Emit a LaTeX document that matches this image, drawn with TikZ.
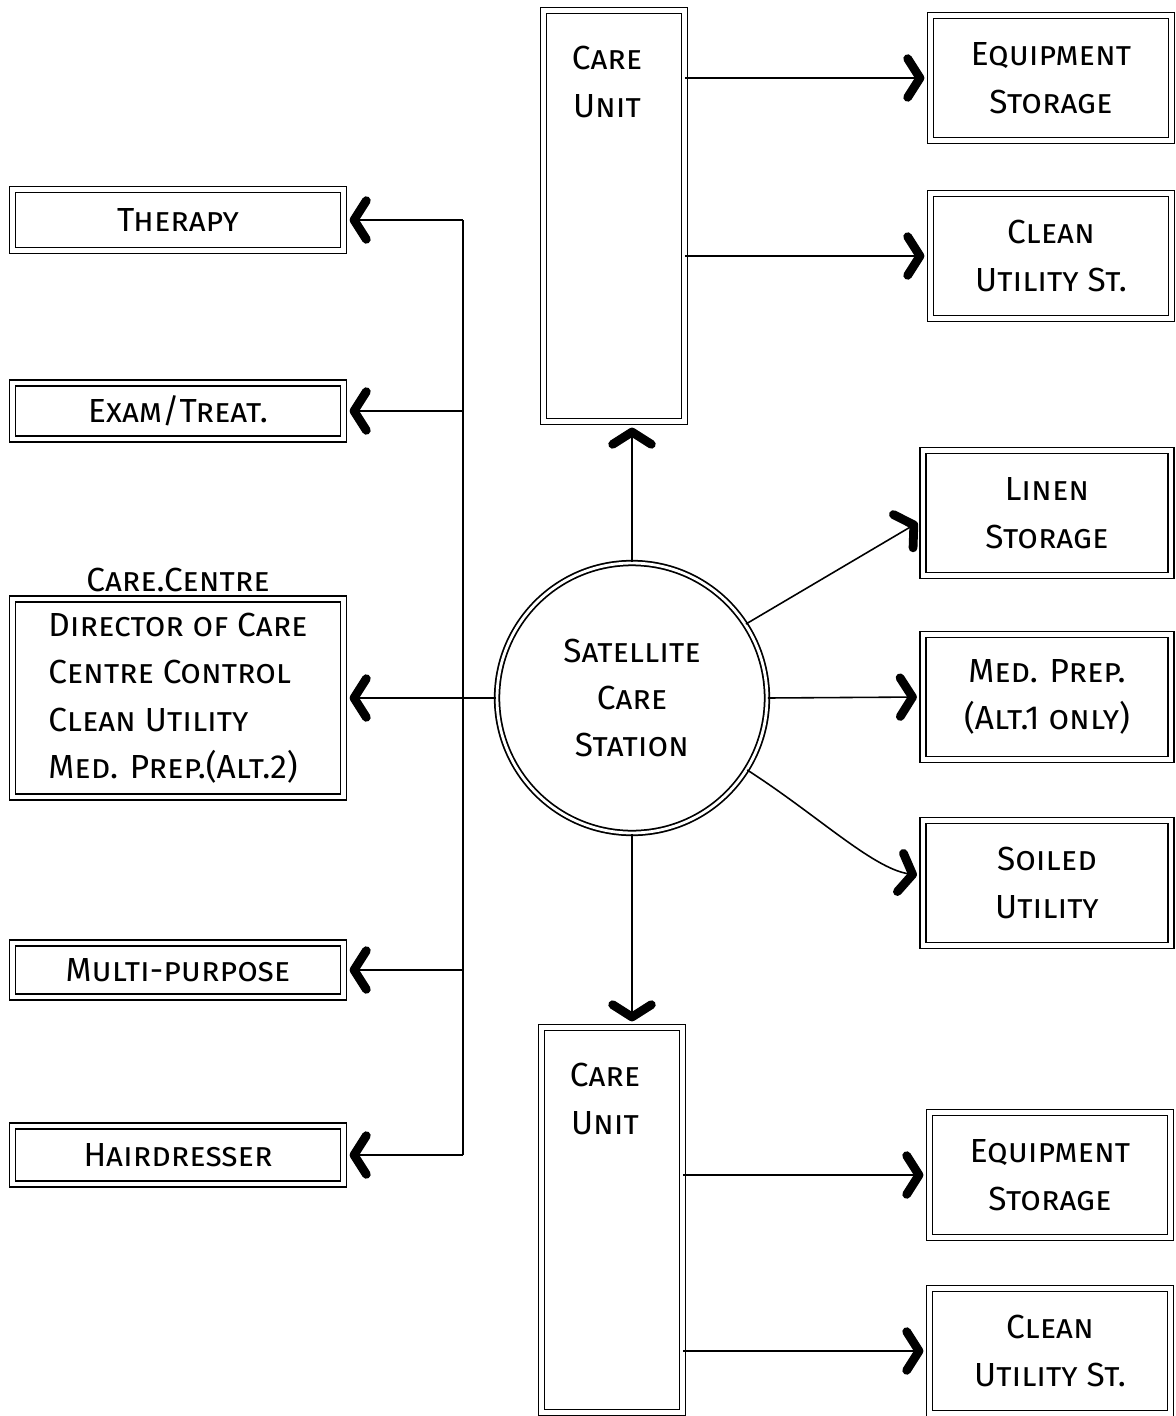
\documentclass[tikz,border=0pt]{standalone}
\usepackage{fontspec}
\setmainfont{Fira Sans}
\usepackage{tikz}
\usetikzlibrary{arrows.meta,positioning,shapes}

\begin{document}
\begin{tikzpicture}[x=0.02cm,y=-0.02cm,
    font=\scshape\fontsize{19}{27}\selectfont,
    line width=0.9pt,
    flow/.style={-{Straight Barb[length=7pt,width=22pt,line width=5pt,round]},shorten >=3pt},
    room/.style={draw,double,double distance=2.4pt,line width=1pt,align=center,inner sep=2pt},
    wing/.style={room,minimum width=6.62cm},
    store/.style={room,minimum width=4.82cm,minimum height=2.5cm},
    unit/.style={room,minimum width=2.82cm}]
    \useasboundingbox (0,0) rectangle (1176,1416);
    % satellite station in the middle
    \node[circle,draw,double,double distance=1.6pt,line width=1pt,minimum size=5.4cm,align=center] (sat) at (632,698) {Satellite\\Care\\Station};
    % care units above and below
    \node[unit,minimum height=8.22cm,label={[anchor=north,yshift=-17pt,xshift=-4pt,align=center]north:Care\\Unit}] (unitA) at (614,216) {};
    \node[unit,minimum height=7.7cm,label={[anchor=north,yshift=-17pt,xshift=-4pt,align=center]north:Care\\Unit}] (unitB) at (612,1220) {};
    % rooms on the left
    \node[wing,minimum height=1.22cm] (therapy) at (178,220) {Therapy};
    \node[wing,minimum height=1.12cm] (exam) at (178,411) {Exam/Treat.};
    \node[wing,minimum height=3.96cm,align=left,label=above:Care.Centre] (centre) at (178,698) {Director of Care\\Centre Control\\Clean Utility\\Med. Prep.(Alt.2)};
    \node[wing,minimum height=1.08cm] (multi) at (178,970) {Multi-purpose};
    \node[wing,minimum height=1.16cm] (hair) at (178,1155) {Hairdresser};
    % rooms on the right
    \node[store] (eqA) at (1051,78) {Equipment\\Storage};
    \node[store] (clA) at (1051,256) {Clean\\Utility St.};
    \node[store,minimum width=4.96cm] (linen) at (1047,513) {Linen\\Storage};
    \node[store,minimum width=4.96cm] (med) at (1047,697) {Med. Prep.\\(Alt.1 only)};
    \node[store,minimum width=4.96cm] (soiled) at (1047,883) {Soiled\\Utility};
    \node[store] (eqB) at (1050,1175) {Equipment\\Storage};
    \node[store] (clB) at (1050,1351) {Clean\\Utility St.};
    % left bus
    \coordinate (btop) at (463,220);
    \coordinate (bbot) at (463,1155);
    \draw (btop) -- (bbot);
    \draw[flow] (btop |- therapy) -- (therapy.east);
    \draw[flow] (btop |- exam) -- (exam.east);
    \draw[flow] (bbot |- multi) -- (multi.east);
    \draw[flow] (bbot) -- (hair.east);
    \draw[flow] (sat.west) -- (centre.east);
    % up and down
    \draw[flow] (sat.north) -- (sat.north |- unitA.south);
    \draw[flow] (sat.south) -- (sat.south |- unitB.north);
    % right side
    \draw[flow] (unitA.east |- eqA) -- (eqA.west);
    \draw[flow] (unitA.east |- clA) -- (clA.west);
    \draw[flow] (sat.33) -- ([yshift=-4pt]linen.west);
    \draw[flow] (sat.east) -- (med.west);
    \draw[flow] (sat.-32) .. controls +(70,45) and +(-50,-8) .. ([yshift=4pt]soiled.west);
    \draw[flow] (unitB.east |- eqB) -- (eqB.west);
    \draw[flow] (unitB.east |- clB) -- (clB.west);
\end{tikzpicture}
\end{document}
